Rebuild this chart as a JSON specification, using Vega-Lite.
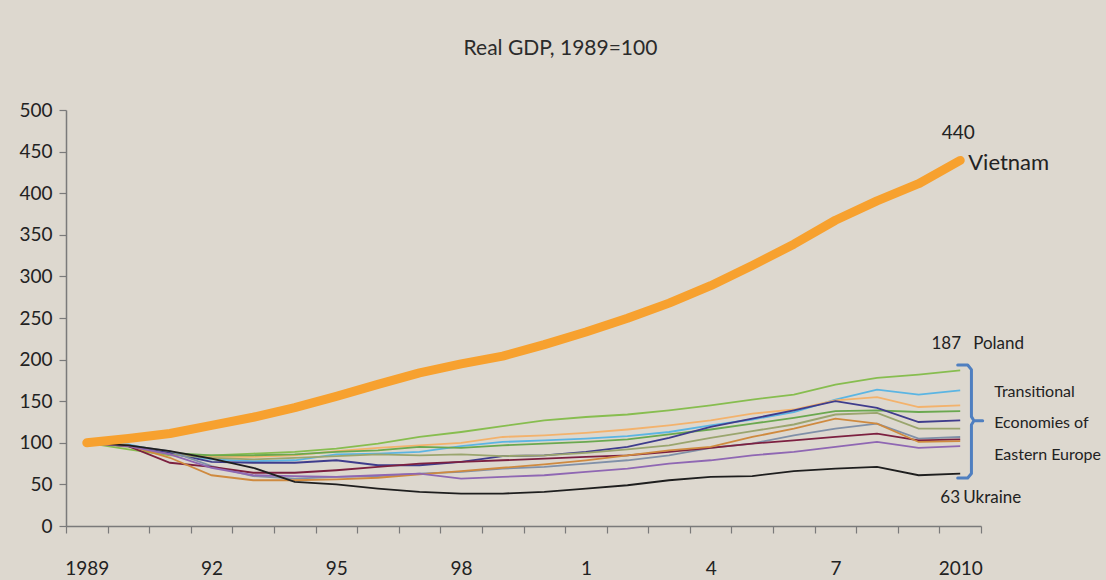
{
  "$schema": "https://vega.github.io/schema/vega-lite/v6.json",
  "width": 915,
  "height": 416,
  "autosize": {"type": "none"},
  "padding": {"left": 66, "top": 110, "right": 125, "bottom": 54},
  "background": "#ddd8cf",
  "config": {"view": {"stroke": null}, "font": "Lato", "text": {"font": "Lato", "color": "#222222"}},
  "title": {"text": "Real GDP, 1989=100", "fontSize": 21, "fontWeight": "normal", "color": "#2b2b2b", "font": "Lato", "anchor": "middle", "dx": 37, "offset": 25, "baseline": "alphabetic"},
  "datasets": {
    "gdp": [
      {"year": 1989, "Vietnam": 100, "Poland": 100, "Slovakia": 100, "Slovenia": 100, "Czech Republic": 100, "Estonia": 100, "Hungary": 100, "Lithuania": 100, "Russia": 100, "Latvia": 100, "Croatia": 100, "Ukraine": 100},
      {"year": 1990, "Vietnam": 105.1, "Poland": 92, "Slovakia": 98, "Slovenia": 96, "Czech Republic": 97, "Estonia": 97, "Hungary": 95, "Lithuania": 97, "Russia": 96, "Latvia": 97, "Croatia": 96, "Ukraine": 97},
      {"year": 1991, "Vietnam": 111.2, "Poland": 85, "Slovakia": 88, "Slovenia": 86, "Czech Republic": 88, "Estonia": 88, "Hungary": 86, "Lithuania": 90, "Russia": 76, "Latvia": 82, "Croatia": 86, "Ukraine": 90},
      {"year": 1992, "Vietnam": 120.9, "Poland": 85, "Slovakia": 80, "Slovenia": 83, "Czech Republic": 85, "Estonia": 77, "Hungary": 82, "Lithuania": 72, "Russia": 71, "Latvia": 61, "Croatia": 70, "Ukraine": 81},
      {"year": 1993, "Vietnam": 130.7, "Poland": 87, "Slovakia": 78, "Slovenia": 83, "Czech Republic": 85, "Estonia": 76, "Hungary": 80, "Lithuania": 60, "Russia": 64, "Latvia": 55, "Croatia": 61, "Ukraine": 70},
      {"year": 1994, "Vietnam": 142.2, "Poland": 89, "Slovakia": 79, "Slovenia": 85, "Czech Republic": 86, "Estonia": 76, "Hungary": 82, "Lithuania": 57, "Russia": 64, "Latvia": 55, "Croatia": 60, "Ukraine": 53},
      {"year": 1995, "Vietnam": 155.7, "Poland": 93, "Slovakia": 86, "Slovenia": 90, "Czech Republic": 89, "Estonia": 79, "Hungary": 84, "Lithuania": 59, "Russia": 67, "Latvia": 56, "Croatia": 59, "Ukraine": 50},
      {"year": 1996, "Vietnam": 170.2, "Poland": 99, "Slovakia": 87, "Slovenia": 94, "Czech Republic": 91, "Estonia": 73, "Hungary": 86, "Lithuania": 60, "Russia": 71, "Latvia": 58, "Croatia": 61, "Ukraine": 45},
      {"year": 1997, "Vietnam": 184.1, "Poland": 107, "Slovakia": 89, "Slovenia": 97, "Czech Republic": 95, "Estonia": 73, "Hungary": 85, "Lithuania": 63, "Russia": 75, "Latvia": 62, "Croatia": 63, "Ukraine": 41},
      {"year": 1998, "Vietnam": 194.8, "Poland": 113, "Slovakia": 96, "Slovenia": 100, "Czech Republic": 94, "Estonia": 77, "Hungary": 86, "Lithuania": 65, "Russia": 77, "Latvia": 66, "Croatia": 57, "Ukraine": 39},
      {"year": 1999, "Vietnam": 204.2, "Poland": 120, "Slovakia": 101, "Slovenia": 107, "Czech Republic": 97, "Estonia": 84, "Hungary": 84, "Lithuania": 69, "Russia": 79, "Latvia": 70, "Croatia": 59, "Ukraine": 39},
      {"year": 2000, "Vietnam": 218.0, "Poland": 127, "Slovakia": 103, "Slovenia": 109, "Czech Republic": 99, "Estonia": 85, "Hungary": 85, "Lithuania": 71, "Russia": 81, "Latvia": 74, "Croatia": 61, "Ukraine": 41},
      {"year": 2001, "Vietnam": 233.1, "Poland": 131, "Slovakia": 105, "Slovenia": 112, "Czech Republic": 101, "Estonia": 89, "Hungary": 88, "Lithuania": 75, "Russia": 83, "Latvia": 79, "Croatia": 65, "Ukraine": 45},
      {"year": 2002, "Vietnam": 249.6, "Poland": 134, "Slovakia": 108, "Slovenia": 116, "Czech Republic": 104, "Estonia": 95, "Hungary": 92, "Lithuania": 79, "Russia": 85, "Latvia": 85, "Croatia": 69, "Ukraine": 49},
      {"year": 2003, "Vietnam": 267.9, "Poland": 139, "Slovakia": 113, "Slovenia": 121, "Czech Republic": 110, "Estonia": 106, "Hungary": 97, "Lithuania": 85, "Russia": 89, "Latvia": 91, "Croatia": 75, "Ukraine": 55},
      {"year": 2004, "Vietnam": 288.8, "Poland": 145, "Slovakia": 121, "Slovenia": 127, "Czech Republic": 116, "Estonia": 119, "Hungary": 106, "Lithuania": 94, "Russia": 94, "Latvia": 95, "Croatia": 79, "Ukraine": 59},
      {"year": 2005, "Vietnam": 313.1, "Poland": 152, "Slovakia": 128, "Slovenia": 135, "Czech Republic": 123, "Estonia": 129, "Hungary": 114, "Lithuania": 99, "Russia": 99, "Latvia": 107, "Croatia": 85, "Ukraine": 60},
      {"year": 2006, "Vietnam": 338.7, "Poland": 158, "Slovakia": 137, "Slovenia": 140, "Czech Republic": 130, "Estonia": 139, "Hungary": 122, "Lithuania": 109, "Russia": 103, "Latvia": 117, "Croatia": 89, "Ukraine": 66},
      {"year": 2007, "Vietnam": 367.5, "Poland": 170, "Slovakia": 152, "Slovenia": 151, "Czech Republic": 138, "Estonia": 150, "Hungary": 134, "Lithuania": 117, "Russia": 107, "Latvia": 129, "Croatia": 95, "Ukraine": 69},
      {"year": 2008, "Vietnam": 390.7, "Poland": 178, "Slovakia": 164, "Slovenia": 155, "Czech Republic": 139, "Estonia": 142, "Hungary": 136, "Lithuania": 123, "Russia": 111, "Latvia": 123, "Croatia": 101, "Ukraine": 71},
      {"year": 2009, "Vietnam": 411.4, "Poland": 182, "Slovakia": 158, "Slovenia": 143, "Czech Republic": 137, "Estonia": 125, "Hungary": 117, "Lithuania": 105, "Russia": 103, "Latvia": 101, "Croatia": 94, "Ukraine": 61},
      {"year": 2010, "Vietnam": 439.4, "Poland": 187, "Slovakia": 163, "Slovenia": 145, "Czech Republic": 138, "Estonia": 127, "Hungary": 117, "Lithuania": 107, "Russia": 104, "Latvia": 102, "Croatia": 96, "Ukraine": 63}
    ],
    "ends": [
      {"name": "Vietnam", "figure": "440", "year": 2010, "value": 439.4},
      {"name": "Poland", "figure": "187", "year": 2010, "value": 187},
      {"name": "Ukraine", "figure": "63", "year": 2010, "value": 63},
      {"name": "Transitional\nEconomies of\nEastern Europe", "figure": "", "year": 2010, "value": 123.8}
    ],
    "bracket": [
      {"i": 0, "year": 2009.94, "value": 193.5},
      {"i": 1, "year": 2010.18, "value": 193.5},
      {"i": 2, "year": 2010.27, "value": 188},
      {"i": 3, "year": 2010.27, "value": 131.5},
      {"i": 4, "year": 2010.33, "value": 126.6},
      {"i": 5, "year": 2010.54, "value": 126.6},
      {"i": 6, "year": 2010.33, "value": 126.6},
      {"i": 7, "year": 2010.27, "value": 121.7},
      {"i": 8, "year": 2010.27, "value": 63},
      {"i": 9, "year": 2010.18, "value": 57.7},
      {"i": 10, "year": 2009.94, "value": 57.7}
    ]
  },
  "encoding": {
    "x": {
      "field": "year", "type": "quantitative",
      "scale": {"domain": [1988.5, 2010.5], "nice": false, "zero": false},
      "axis": {
        "values": [1988.5, 1989.5, 1990.5, 1991.5, 1992.5, 1993.5, 1994.5, 1995.5, 1996.5, 1997.5, 1998.5, 1999.5, 2000.5, 2001.5, 2002.5, 2003.5, 2004.5, 2005.5, 2006.5, 2007.5, 2008.5, 2009.5, 2010.5],
        "labelExpr": "(datum.value + 0.5 - 1989) % 3 == 0 ? ((datum.value + 0.5 == 1989 || datum.value + 0.5 == 2010) ? format(datum.value + 0.5, 'd') : format((datum.value + 0.5) % 100, 'd')) : ''",
        "labelOffset": 20.8, "labelFlush": false, "labelOverlap": false, "labelBound": false, "labelAlign": "center",
        "grid": false, "title": null, "tickSize": 7, "tickColor": "#7a7a7a", "domainColor": "#7a7a7a", "domainWidth": 1.5, "tickWidth": 1.2,
        "labelFontSize": 19, "labelPadding": 26, "labelColor": "#222222", "labelFont": "Lato", "labelBaseline": "top"
      }
    },
    "y": {
      "field": "value", "type": "quantitative",
      "scale": {"domain": [0, 500], "nice": false},
      "axis": {
        "values": [0, 50, 100, 150, 200, 250, 300, 350, 400, 450, 500],
        "grid": false, "title": null, "tickSize": 7, "tickColor": "#7a7a7a", "domainColor": "#7a7a7a", "domainWidth": 1.5, "tickWidth": 1.2,
        "labelFontSize": 19, "labelPadding": 7, "labelColor": "#222222", "labelFont": "Lato"
      }
    }
  },
  "layer": [
    {
      "data": {"name": "gdp"},
      "transform": [
        {"fold": ["Poland", "Slovakia", "Slovenia", "Czech Republic", "Estonia", "Hungary", "Lithuania", "Russia", "Latvia", "Croatia", "Ukraine"], "as": ["country", "value"]}
      ],
      "mark": {"type": "line", "strokeWidth": 1.8},
      "encoding": {
        "color": {
          "field": "country", "type": "nominal", "legend": null,
          "scale": {
            "domain": ["Poland", "Slovakia", "Slovenia", "Czech Republic", "Estonia", "Hungary", "Lithuania", "Russia", "Latvia", "Croatia", "Ukraine"],
            "range": ["#87bd4f", "#5bb5e3", "#f3b26c", "#6aa84f", "#3f3c8c", "#9aa56e", "#8090a8", "#7c2040", "#cf8a3f", "#8f67b3", "#1e1e1e"]
          }
        }
      }
    },
    {
      "data": {"name": "gdp"},
      "transform": [{"fold": ["Vietnam"], "as": ["country", "value"]}],
      "mark": {"type": "line", "strokeWidth": 9, "color": "#f7a12f", "strokeCap": "round", "strokeJoin": "round"},
      "encoding": {}
    },
    {
      "data": {"name": "bracket"},
      "mark": {"type": "line", "strokeWidth": 3, "color": "#4f7fc0", "strokeJoin": "round", "strokeCap": "round", "clip": false},
      "encoding": {"order": {"field": "i", "type": "quantitative"}}
    },
    {
      "data": {"name": "ends"},
      "transform": [{"filter": "datum.name == 'Vietnam'"}],
      "mark": {"type": "text", "dx": -2, "dy": -27, "fontSize": 19, "align": "center", "baseline": "middle"},
      "encoding": {"text": {"field": "figure"}}
    },
    {
      "data": {"name": "ends"},
      "transform": [{"filter": "datum.name == 'Vietnam'"}],
      "mark": {"type": "text", "dx": 8, "dy": 3, "fontSize": 22, "align": "left", "baseline": "middle"},
      "encoding": {"text": {"field": "name"}}
    },
    {
      "data": {"name": "ends"},
      "transform": [{"filter": "datum.name == 'Poland'"}],
      "mark": {"type": "text", "dx": -14, "dy": -26, "fontSize": 17, "align": "center", "baseline": "middle"},
      "encoding": {"text": {"field": "figure"}}
    },
    {
      "data": {"name": "ends"},
      "transform": [{"filter": "datum.name == 'Poland'"}],
      "mark": {"type": "text", "dx": 13, "dy": -26, "fontSize": 17, "align": "left", "baseline": "middle"},
      "encoding": {"text": {"field": "name"}}
    },
    {
      "data": {"name": "ends"},
      "transform": [{"filter": "datum.name == 'Ukraine'"}],
      "mark": {"type": "text", "dx": -10, "dy": 24, "fontSize": 17, "align": "center", "baseline": "middle"},
      "encoding": {"text": {"field": "figure"}}
    },
    {
      "data": {"name": "ends"},
      "transform": [{"filter": "datum.name == 'Ukraine'"}],
      "mark": {"type": "text", "dx": 3, "dy": 24, "fontSize": 17, "align": "left", "baseline": "middle"},
      "encoding": {"text": {"field": "name"}}
    },
    {
      "data": {"name": "ends"},
      "transform": [{"filter": "indexof(datum.name, 'Transitional') == 0"}],
      "mark": {"type": "text", "dx": 34, "dy": -31, "fontSize": 16, "align": "left", "baseline": "middle", "lineBreak": "\n", "lineHeight": 31.5},
      "encoding": {"text": {"field": "name"}}
    }
  ]
}
